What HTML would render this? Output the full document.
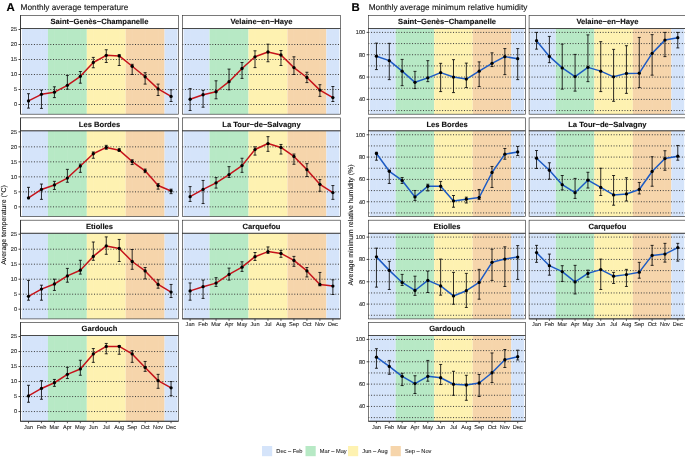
<!DOCTYPE html>
<html lang="en"><head><meta charset="utf-8"><title>Monthly climate</title>
<style>html,body{margin:0;padding:0;background:#fff}svg{display:block}text{font-family:'Liberation Sans', sans-serif;fill:#1a1a1a;text-rendering:geometricPrecision}.grid{stroke:#3a3a3a;stroke-width:1;stroke-dasharray:1 1.732;stroke-dashoffset:.24}.vg{stroke:#fff;stroke-width:.7;opacity:.08;fill:none}.err{stroke:#0a0a0a;stroke-width:.85;fill:none}.bd{stroke:#333333;stroke-width:.65;fill:none}.axl{stroke:#333;stroke-width:.9;fill:none}.xtick{stroke:#333;stroke-width:.8}.tick{stroke:#333;stroke-width:.9}.strip{font-size:7.6px;font-weight:700;text-anchor:middle;fill:#111;stroke:#111;stroke-width:.12px}.ylab{font-size:5.6px;text-anchor:end;fill:#2a2a2a;stroke:#2a2a2a;stroke-width:.1px}.xlab{font-size:5.6px;text-anchor:middle;fill:#2a2a2a;stroke:#2a2a2a;stroke-width:.1px}.ttl{font-size:8.25px;fill:#111;stroke:#111;stroke-width:.1px}.tag{font-size:11.4px;font-weight:700;fill:#000;stroke:#000;stroke-width:.15px}.ax{font-size:6.97px;text-anchor:middle;fill:#111;stroke:#111;stroke-width:.1px}.leg{font-size:5.7px;fill:#222;stroke:#222;stroke-width:.08px}</style></head><body>
<svg width="685" height="460" viewBox="0 0 685 460">
<rect width="685" height="460" fill="#fff"/>
<g>
<rect x="22.02" y="28.5" width="25.92" height="85.7" fill="#d5e4fa"/>
<rect x="47.94" y="28.5" width="38.88" height="85.7" fill="#b7e9c5"/>
<rect x="86.82" y="28.5" width="38.88" height="85.7" fill="#fef2b1"/>
<rect x="125.7" y="28.5" width="38.88" height="85.7" fill="#f6d5ab"/>
<rect x="164.58" y="28.5" width="12.96" height="85.7" fill="#d5e4fa"/>
<path d="M28.5 28.5v85.7M41.46 28.5v85.7M54.42 28.5v85.7M67.38 28.5v85.7M80.34 28.5v85.7M93.3 28.5v85.7M106.26 28.5v85.7M119.22 28.5v85.7M132.18 28.5v85.7M145.14 28.5v85.7M158.1 28.5v85.7M171.06 28.5v85.7" class="vg"/>
<line x1="20.5" x2="178.5" y1="104.5" y2="104.5" class="grid"/>
<line x1="20.5" x2="178.5" y1="89.5" y2="89.5" class="grid"/>
<line x1="20.5" x2="178.5" y1="74.5" y2="74.5" class="grid"/>
<line x1="20.5" x2="178.5" y1="59.5" y2="59.5" class="grid"/>
<line x1="20.5" x2="178.5" y1="44.5" y2="44.5" class="grid"/>
<path d="M28.5 93.7V108.1M27 93.7h3M27 108.1h3M41.46 90.1V108.4M39.96 90.1h3M39.96 108.4h3M54.42 86.8V97.6M52.92 86.8h3M52.92 97.6h3M67.38 75.4V89.2M65.88 75.4h3M65.88 89.2h3M80.34 71.5V83.2M78.84 71.5h3M78.84 83.2h3M93.3 57.4V67.75M91.8 57.4h3M91.8 67.75h3M106.26 49.75V62.5M104.76 49.75h3M104.76 62.5h3M119.22 54.7V65.5M117.72 54.7h3M117.72 65.5h3M132.18 64.3V74.5M130.68 64.3h3M130.68 74.5h3M145.14 72.7V84.1M143.64 72.7h3M143.64 84.1h3M158.1 84.1V95.5M156.6 84.1h3M156.6 95.5h3M171.06 89.8V101.5M169.56 89.8h3M169.56 101.5h3" class="err"/>
<polyline points="28.5,100.9 41.46,94.3 54.42,92.2 67.38,85.3 80.34,76.3 93.3,62.5 106.26,55.3 119.22,55.9 132.18,66.25 145.14,76.75 158.1,88.9 171.06,96.4" fill="none" stroke="#c5131b" stroke-width="1.5" stroke-linejoin="round"/>
<circle cx="28.5" cy="100.9" r="1.65" fill="#000"/>
<circle cx="41.46" cy="94.3" r="1.65" fill="#000"/>
<circle cx="54.42" cy="92.2" r="1.65" fill="#000"/>
<circle cx="67.38" cy="85.3" r="1.65" fill="#000"/>
<circle cx="80.34" cy="76.3" r="1.65" fill="#000"/>
<circle cx="93.3" cy="62.5" r="1.65" fill="#000"/>
<circle cx="106.26" cy="55.3" r="1.65" fill="#000"/>
<circle cx="119.22" cy="55.9" r="1.65" fill="#000"/>
<circle cx="132.18" cy="66.25" r="1.65" fill="#000"/>
<circle cx="145.14" cy="76.75" r="1.65" fill="#000"/>
<circle cx="158.1" cy="88.9" r="1.65" fill="#000"/>
<circle cx="171.06" cy="96.4" r="1.65" fill="#000"/>
<rect x="20.5" y="28.5" width="158" height="85.7" class="bd"/>
<rect x="20.5" y="15.5" width="158" height="13" class="bd" fill="#fff"/>
<text x="99.5" y="24.35" class="strip">Saint−Genès−Champanelle</text>
<line x1="20.5" x2="20.5" y1="15.5" y2="114.2" class="axl"/>
<line x1="18.5" x2="20.5" y1="104.5" y2="104.5" class="tick"/>
<text x="17.1" y="106.35" class="ylab">0</text>
<line x1="18.5" x2="20.5" y1="89.5" y2="89.5" class="tick"/>
<text x="17.1" y="91.35" class="ylab">5</text>
<line x1="18.5" x2="20.5" y1="74.5" y2="74.5" class="tick"/>
<text x="17.1" y="76.35" class="ylab">10</text>
<line x1="18.5" x2="20.5" y1="59.5" y2="59.5" class="tick"/>
<text x="17.1" y="61.35" class="ylab">15</text>
<line x1="18.5" x2="20.5" y1="44.5" y2="44.5" class="tick"/>
<text x="17.1" y="46.35" class="ylab">20</text>
<line x1="18.5" x2="20.5" y1="29.5" y2="29.5" class="tick"/>
<text x="17.1" y="31.35" class="ylab">25</text>
</g>
<g>
<rect x="183.61" y="28.5" width="25.96" height="85.7" fill="#d5e4fa"/>
<rect x="209.57" y="28.5" width="38.94" height="85.7" fill="#b7e9c5"/>
<rect x="248.51" y="28.5" width="38.94" height="85.7" fill="#fef2b1"/>
<rect x="287.45" y="28.5" width="38.94" height="85.7" fill="#f6d5ab"/>
<rect x="326.39" y="28.5" width="12.98" height="85.7" fill="#d5e4fa"/>
<path d="M190.1 28.5v85.7M203.08 28.5v85.7M216.06 28.5v85.7M229.04 28.5v85.7M242.02 28.5v85.7M255 28.5v85.7M267.98 28.5v85.7M280.96 28.5v85.7M293.94 28.5v85.7M306.92 28.5v85.7M319.9 28.5v85.7M332.88 28.5v85.7" class="vg"/>
<line x1="182.5" x2="340.5" y1="104.5" y2="104.5" class="grid"/>
<line x1="182.5" x2="340.5" y1="89.5" y2="89.5" class="grid"/>
<line x1="182.5" x2="340.5" y1="74.5" y2="74.5" class="grid"/>
<line x1="182.5" x2="340.5" y1="59.5" y2="59.5" class="grid"/>
<line x1="182.5" x2="340.5" y1="44.5" y2="44.5" class="grid"/>
<path d="M190.1 88.6V110.5M188.6 88.6h3M188.6 110.5h3M203.08 90.4V107.2M201.58 90.4h3M201.58 107.2h3M216.06 80.8V98.8M214.56 80.8h3M214.56 98.8h3M229.04 69.1V89.8M227.54 69.1h3M227.54 89.8h3M242.02 62.5V78.4M240.52 62.5h3M240.52 78.4h3M255 50.8V67.6M253.5 50.8h3M253.5 67.6h3M267.98 44.2V61.75M266.48 44.2h3M266.48 61.75h3M280.96 50.5V65.5M279.46 50.5h3M279.46 65.5h3M293.94 56.8V74.5M292.44 56.8h3M292.44 74.5h3M306.92 72.25V82.6M305.42 72.25h3M305.42 82.6h3M319.9 84.7V96.4M318.4 84.7h3M318.4 96.4h3M332.88 86.5V101.5M331.38 86.5h3M331.38 101.5h3" class="err"/>
<polyline points="190.1,99.25 203.08,94.75 216.06,91.75 229.04,81.7 242.02,68.5 255,56.8 267.98,52 280.96,55 293.94,67.6 306.92,77.5 319.9,90.1 332.88,97.6" fill="none" stroke="#c5131b" stroke-width="1.5" stroke-linejoin="round"/>
<circle cx="190.1" cy="99.25" r="1.65" fill="#000"/>
<circle cx="203.08" cy="94.75" r="1.65" fill="#000"/>
<circle cx="216.06" cy="91.75" r="1.65" fill="#000"/>
<circle cx="229.04" cy="81.7" r="1.65" fill="#000"/>
<circle cx="242.02" cy="68.5" r="1.65" fill="#000"/>
<circle cx="255" cy="56.8" r="1.65" fill="#000"/>
<circle cx="267.98" cy="52" r="1.65" fill="#000"/>
<circle cx="280.96" cy="55" r="1.65" fill="#000"/>
<circle cx="293.94" cy="67.6" r="1.65" fill="#000"/>
<circle cx="306.92" cy="77.5" r="1.65" fill="#000"/>
<circle cx="319.9" cy="90.1" r="1.65" fill="#000"/>
<circle cx="332.88" cy="97.6" r="1.65" fill="#000"/>
<rect x="182.5" y="28.5" width="158" height="85.7" class="bd"/>
<rect x="182.5" y="15.5" width="158" height="13" class="bd" fill="#fff"/>
<text x="261.5" y="24.35" class="strip">Velaine−en−Haye</text>
</g>
<g>
<rect x="22.02" y="130.85" width="25.92" height="85.7" fill="#d5e4fa"/>
<rect x="47.94" y="130.85" width="38.88" height="85.7" fill="#b7e9c5"/>
<rect x="86.82" y="130.85" width="38.88" height="85.7" fill="#fef2b1"/>
<rect x="125.7" y="130.85" width="38.88" height="85.7" fill="#f6d5ab"/>
<rect x="164.58" y="130.85" width="12.96" height="85.7" fill="#d5e4fa"/>
<path d="M28.5 130.85v85.7M41.46 130.85v85.7M54.42 130.85v85.7M67.38 130.85v85.7M80.34 130.85v85.7M93.3 130.85v85.7M106.26 130.85v85.7M119.22 130.85v85.7M132.18 130.85v85.7M145.14 130.85v85.7M158.1 130.85v85.7M171.06 130.85v85.7" class="vg"/>
<line x1="20.5" x2="178.5" y1="206.85" y2="206.85" class="grid"/>
<line x1="20.5" x2="178.5" y1="191.85" y2="191.85" class="grid"/>
<line x1="20.5" x2="178.5" y1="176.85" y2="176.85" class="grid"/>
<line x1="20.5" x2="178.5" y1="161.85" y2="161.85" class="grid"/>
<line x1="20.5" x2="178.5" y1="146.85" y2="146.85" class="grid"/>
<path d="M28.5 187.35V198.75M27 187.35h3M27 198.75h3M41.46 184.05V199.35M39.96 184.05h3M39.96 199.35h3M54.42 181.35V189.45M52.92 181.35h3M52.92 189.45h3M67.38 169.35V182.25M65.88 169.35h3M65.88 182.25h3M80.34 164.1V172.35M78.84 164.1h3M78.84 172.35h3M93.3 151.95V158.25M91.8 151.95h3M91.8 158.25h3M106.26 145.35V149.25M104.76 145.35h3M104.76 149.25h3M119.22 148.65V151.35M117.72 148.65h3M117.72 151.35h3M132.18 159.75V164.55M130.68 159.75h3M130.68 164.55h3M145.14 169.05V172.65M143.64 169.05h3M143.64 172.65h3M158.1 183.6V189.15M156.6 183.6h3M156.6 189.15h3M171.06 189.15V193.65M169.56 189.15h3M169.56 193.65h3" class="err"/>
<polyline points="28.5,197.85 41.46,189.45 54.42,184.95 67.38,178.05 80.34,166.05 93.3,153.75 106.26,147.45 119.22,150.15 132.18,161.55 145.14,170.85 158.1,185.55 171.06,190.95" fill="none" stroke="#c5131b" stroke-width="1.5" stroke-linejoin="round"/>
<circle cx="28.5" cy="197.85" r="1.65" fill="#000"/>
<circle cx="41.46" cy="189.45" r="1.65" fill="#000"/>
<circle cx="54.42" cy="184.95" r="1.65" fill="#000"/>
<circle cx="67.38" cy="178.05" r="1.65" fill="#000"/>
<circle cx="80.34" cy="166.05" r="1.65" fill="#000"/>
<circle cx="93.3" cy="153.75" r="1.65" fill="#000"/>
<circle cx="106.26" cy="147.45" r="1.65" fill="#000"/>
<circle cx="119.22" cy="150.15" r="1.65" fill="#000"/>
<circle cx="132.18" cy="161.55" r="1.65" fill="#000"/>
<circle cx="145.14" cy="170.85" r="1.65" fill="#000"/>
<circle cx="158.1" cy="185.55" r="1.65" fill="#000"/>
<circle cx="171.06" cy="190.95" r="1.65" fill="#000"/>
<rect x="20.5" y="130.85" width="158" height="85.7" class="bd"/>
<rect x="20.5" y="117.85" width="158" height="13" class="bd" fill="#fff"/>
<text x="99.5" y="126.7" class="strip">Les Bordes</text>
<line x1="20.5" x2="20.5" y1="117.85" y2="216.55" class="axl"/>
<line x1="18.5" x2="20.5" y1="206.85" y2="206.85" class="tick"/>
<text x="17.1" y="208.7" class="ylab">0</text>
<line x1="18.5" x2="20.5" y1="191.85" y2="191.85" class="tick"/>
<text x="17.1" y="193.7" class="ylab">5</text>
<line x1="18.5" x2="20.5" y1="176.85" y2="176.85" class="tick"/>
<text x="17.1" y="178.7" class="ylab">10</text>
<line x1="18.5" x2="20.5" y1="161.85" y2="161.85" class="tick"/>
<text x="17.1" y="163.7" class="ylab">15</text>
<line x1="18.5" x2="20.5" y1="146.85" y2="146.85" class="tick"/>
<text x="17.1" y="148.7" class="ylab">20</text>
<line x1="18.5" x2="20.5" y1="131.85" y2="131.85" class="tick"/>
<text x="17.1" y="133.7" class="ylab">25</text>
</g>
<g>
<rect x="183.61" y="130.85" width="25.96" height="85.7" fill="#d5e4fa"/>
<rect x="209.57" y="130.85" width="38.94" height="85.7" fill="#b7e9c5"/>
<rect x="248.51" y="130.85" width="38.94" height="85.7" fill="#fef2b1"/>
<rect x="287.45" y="130.85" width="38.94" height="85.7" fill="#f6d5ab"/>
<rect x="326.39" y="130.85" width="12.98" height="85.7" fill="#d5e4fa"/>
<path d="M190.1 130.85v85.7M203.08 130.85v85.7M216.06 130.85v85.7M229.04 130.85v85.7M242.02 130.85v85.7M255 130.85v85.7M267.98 130.85v85.7M280.96 130.85v85.7M293.94 130.85v85.7M306.92 130.85v85.7M319.9 130.85v85.7M332.88 130.85v85.7" class="vg"/>
<line x1="182.5" x2="340.5" y1="206.85" y2="206.85" class="grid"/>
<line x1="182.5" x2="340.5" y1="191.85" y2="191.85" class="grid"/>
<line x1="182.5" x2="340.5" y1="176.85" y2="176.85" class="grid"/>
<line x1="182.5" x2="340.5" y1="161.85" y2="161.85" class="grid"/>
<line x1="182.5" x2="340.5" y1="146.85" y2="146.85" class="grid"/>
<path d="M190.1 186.6V201.45M188.6 186.6h3M188.6 201.45h3M203.08 180.45V203.55M201.58 180.45h3M201.58 203.55h3M216.06 177.6V188.1M214.56 177.6h3M214.56 188.1h3M229.04 166.65V177.45M227.54 166.65h3M227.54 177.45h3M242.02 158.25V172.35M240.52 158.25h3M240.52 172.35h3M255 146.85V155.1M253.5 146.85h3M253.5 155.1h3M267.98 136.65V151.35M266.48 136.65h3M266.48 151.35h3M280.96 144.45V154.05M279.46 144.45h3M279.46 154.05h3M293.94 154.05V164.25M292.44 154.05h3M292.44 164.25h3M306.92 163.65V176.55M305.42 163.65h3M305.42 176.55h3M319.9 179.55V191.25M318.4 179.55h3M318.4 191.25h3M332.88 185.55V199.35M331.38 185.55h3M331.38 199.35h3" class="err"/>
<polyline points="190.1,196.65 203.08,189.45 216.06,182.85 229.04,174.6 242.02,165.6 255,149.55 267.98,143.55 280.96,147.45 293.94,156.45 306.92,169.65 319.9,184.35 332.88,192.6" fill="none" stroke="#c5131b" stroke-width="1.5" stroke-linejoin="round"/>
<circle cx="190.1" cy="196.65" r="1.65" fill="#000"/>
<circle cx="203.08" cy="189.45" r="1.65" fill="#000"/>
<circle cx="216.06" cy="182.85" r="1.65" fill="#000"/>
<circle cx="229.04" cy="174.6" r="1.65" fill="#000"/>
<circle cx="242.02" cy="165.6" r="1.65" fill="#000"/>
<circle cx="255" cy="149.55" r="1.65" fill="#000"/>
<circle cx="267.98" cy="143.55" r="1.65" fill="#000"/>
<circle cx="280.96" cy="147.45" r="1.65" fill="#000"/>
<circle cx="293.94" cy="156.45" r="1.65" fill="#000"/>
<circle cx="306.92" cy="169.65" r="1.65" fill="#000"/>
<circle cx="319.9" cy="184.35" r="1.65" fill="#000"/>
<circle cx="332.88" cy="192.6" r="1.65" fill="#000"/>
<rect x="182.5" y="130.85" width="158" height="85.7" class="bd"/>
<rect x="182.5" y="117.85" width="158" height="13" class="bd" fill="#fff"/>
<text x="261.5" y="126.7" class="strip">La Tour−de−Salvagny</text>
</g>
<g>
<rect x="22.02" y="233.2" width="25.92" height="85.7" fill="#d5e4fa"/>
<rect x="47.94" y="233.2" width="38.88" height="85.7" fill="#b7e9c5"/>
<rect x="86.82" y="233.2" width="38.88" height="85.7" fill="#fef2b1"/>
<rect x="125.7" y="233.2" width="38.88" height="85.7" fill="#f6d5ab"/>
<rect x="164.58" y="233.2" width="12.96" height="85.7" fill="#d5e4fa"/>
<path d="M28.5 233.2v85.7M41.46 233.2v85.7M54.42 233.2v85.7M67.38 233.2v85.7M80.34 233.2v85.7M93.3 233.2v85.7M106.26 233.2v85.7M119.22 233.2v85.7M132.18 233.2v85.7M145.14 233.2v85.7M158.1 233.2v85.7M171.06 233.2v85.7" class="vg"/>
<line x1="20.5" x2="178.5" y1="309.2" y2="309.2" class="grid"/>
<line x1="20.5" x2="178.5" y1="294.2" y2="294.2" class="grid"/>
<line x1="20.5" x2="178.5" y1="279.2" y2="279.2" class="grid"/>
<line x1="20.5" x2="178.5" y1="264.2" y2="264.2" class="grid"/>
<line x1="20.5" x2="178.5" y1="249.2" y2="249.2" class="grid"/>
<path d="M28.5 280.4V300.2M27 280.4h3M27 300.2h3M41.46 285.2V300.2M39.96 285.2h3M39.96 300.2h3M54.42 279.2V290.45M52.92 279.2h3M52.92 290.45h3M67.38 268.4V282.2M65.88 268.4h3M65.88 282.2h3M80.34 260.3V274.1M78.84 260.3h3M78.84 274.1h3M93.3 242V260.3M91.8 242h3M91.8 260.3h3M106.26 236.9V254.3M104.76 236.9h3M104.76 254.3h3M119.22 239.45V261.5M117.72 239.45h3M117.72 261.5h3M132.18 249.5V269.3M130.68 249.5h3M130.68 269.3h3M145.14 267.5V278.9M143.64 267.5h3M143.64 278.9h3M158.1 279.8V288.2M156.6 279.8h3M156.6 288.2h3M171.06 284.45V297.5M169.56 284.45h3M169.56 297.5h3" class="err"/>
<polyline points="28.5,296.3 41.46,289.1 54.42,284 67.38,275.9 80.34,270.2 93.3,256.4 106.26,245.9 119.22,248.45 132.18,261.5 145.14,270.95 158.1,284.45 171.06,292.1" fill="none" stroke="#c5131b" stroke-width="1.5" stroke-linejoin="round"/>
<circle cx="28.5" cy="296.3" r="1.65" fill="#000"/>
<circle cx="41.46" cy="289.1" r="1.65" fill="#000"/>
<circle cx="54.42" cy="284" r="1.65" fill="#000"/>
<circle cx="67.38" cy="275.9" r="1.65" fill="#000"/>
<circle cx="80.34" cy="270.2" r="1.65" fill="#000"/>
<circle cx="93.3" cy="256.4" r="1.65" fill="#000"/>
<circle cx="106.26" cy="245.9" r="1.65" fill="#000"/>
<circle cx="119.22" cy="248.45" r="1.65" fill="#000"/>
<circle cx="132.18" cy="261.5" r="1.65" fill="#000"/>
<circle cx="145.14" cy="270.95" r="1.65" fill="#000"/>
<circle cx="158.1" cy="284.45" r="1.65" fill="#000"/>
<circle cx="171.06" cy="292.1" r="1.65" fill="#000"/>
<rect x="20.5" y="233.2" width="158" height="85.7" class="bd"/>
<rect x="20.5" y="220.2" width="158" height="13" class="bd" fill="#fff"/>
<text x="99.5" y="229.05" class="strip">Etiolles</text>
<line x1="20.5" x2="20.5" y1="220.2" y2="318.9" class="axl"/>
<line x1="18.5" x2="20.5" y1="309.2" y2="309.2" class="tick"/>
<text x="17.1" y="311.05" class="ylab">0</text>
<line x1="18.5" x2="20.5" y1="294.2" y2="294.2" class="tick"/>
<text x="17.1" y="296.05" class="ylab">5</text>
<line x1="18.5" x2="20.5" y1="279.2" y2="279.2" class="tick"/>
<text x="17.1" y="281.05" class="ylab">10</text>
<line x1="18.5" x2="20.5" y1="264.2" y2="264.2" class="tick"/>
<text x="17.1" y="266.05" class="ylab">15</text>
<line x1="18.5" x2="20.5" y1="249.2" y2="249.2" class="tick"/>
<text x="17.1" y="251.05" class="ylab">20</text>
<line x1="18.5" x2="20.5" y1="234.2" y2="234.2" class="tick"/>
<text x="17.1" y="236.05" class="ylab">25</text>
</g>
<g>
<rect x="183.61" y="233.2" width="25.96" height="85.7" fill="#d5e4fa"/>
<rect x="209.57" y="233.2" width="38.94" height="85.7" fill="#b7e9c5"/>
<rect x="248.51" y="233.2" width="38.94" height="85.7" fill="#fef2b1"/>
<rect x="287.45" y="233.2" width="38.94" height="85.7" fill="#f6d5ab"/>
<rect x="326.39" y="233.2" width="12.98" height="85.7" fill="#d5e4fa"/>
<path d="M190.1 233.2v85.7M203.08 233.2v85.7M216.06 233.2v85.7M229.04 233.2v85.7M242.02 233.2v85.7M255 233.2v85.7M267.98 233.2v85.7M280.96 233.2v85.7M293.94 233.2v85.7M306.92 233.2v85.7M319.9 233.2v85.7M332.88 233.2v85.7" class="vg"/>
<line x1="182.5" x2="340.5" y1="309.2" y2="309.2" class="grid"/>
<line x1="182.5" x2="340.5" y1="294.2" y2="294.2" class="grid"/>
<line x1="182.5" x2="340.5" y1="279.2" y2="279.2" class="grid"/>
<line x1="182.5" x2="340.5" y1="264.2" y2="264.2" class="grid"/>
<line x1="182.5" x2="340.5" y1="249.2" y2="249.2" class="grid"/>
<path d="M190.1 282.95V300.2M188.6 282.95h3M188.6 300.2h3M203.08 280.1V298.4M201.58 280.1h3M201.58 298.4h3M216.06 277.7V286.4M214.56 277.7h3M214.56 286.4h3M229.04 268.1V280.1M227.54 268.1h3M227.54 280.1h3M242.02 261.8V271.4M240.52 261.8h3M240.52 271.4h3M255 252.5V260.45M253.5 252.5h3M253.5 260.45h3M267.98 246.95V253.4M266.48 246.95h3M266.48 253.4h3M280.96 250.4V257.3M279.46 250.4h3M279.46 257.3h3M293.94 256.4V266.3M292.44 256.4h3M292.44 266.3h3M306.92 267.5V276.95M305.42 267.5h3M305.42 276.95h3M319.9 272.45V285.8M318.4 272.45h3M318.4 285.8h3M332.88 279.8V294.5M331.38 279.8h3M331.38 294.5h3" class="err"/>
<polyline points="190.1,290.9 203.08,286.7 216.06,283.1 229.04,274.4 242.02,267.2 255,256.7 267.98,251.6 280.96,253.4 293.94,260.45 306.92,270.95 319.9,284.45 332.88,286.1" fill="none" stroke="#c5131b" stroke-width="1.5" stroke-linejoin="round"/>
<circle cx="190.1" cy="290.9" r="1.65" fill="#000"/>
<circle cx="203.08" cy="286.7" r="1.65" fill="#000"/>
<circle cx="216.06" cy="283.1" r="1.65" fill="#000"/>
<circle cx="229.04" cy="274.4" r="1.65" fill="#000"/>
<circle cx="242.02" cy="267.2" r="1.65" fill="#000"/>
<circle cx="255" cy="256.7" r="1.65" fill="#000"/>
<circle cx="267.98" cy="251.6" r="1.65" fill="#000"/>
<circle cx="280.96" cy="253.4" r="1.65" fill="#000"/>
<circle cx="293.94" cy="260.45" r="1.65" fill="#000"/>
<circle cx="306.92" cy="270.95" r="1.65" fill="#000"/>
<circle cx="319.9" cy="284.45" r="1.65" fill="#000"/>
<circle cx="332.88" cy="286.1" r="1.65" fill="#000"/>
<rect x="182.5" y="233.2" width="158" height="85.7" class="bd"/>
<rect x="182.5" y="220.2" width="158" height="13" class="bd" fill="#fff"/>
<text x="261.5" y="229.05" class="strip">Carquefou</text>
<line x1="182.5" x2="340.5" y1="318.9" y2="318.9" class="axl"/>
<line x1="190.1" x2="190.1" y1="318.9" y2="320.9" class="xtick"/>
<text x="190.1" y="326.15" class="xlab">Jan</text>
<line x1="203.08" x2="203.08" y1="318.9" y2="320.9" class="xtick"/>
<text x="203.08" y="326.15" class="xlab">Feb</text>
<line x1="216.06" x2="216.06" y1="318.9" y2="320.9" class="xtick"/>
<text x="216.06" y="326.15" class="xlab">Mar</text>
<line x1="229.04" x2="229.04" y1="318.9" y2="320.9" class="xtick"/>
<text x="229.04" y="326.15" class="xlab">Apr</text>
<line x1="242.02" x2="242.02" y1="318.9" y2="320.9" class="xtick"/>
<text x="242.02" y="326.15" class="xlab">May</text>
<line x1="255" x2="255" y1="318.9" y2="320.9" class="xtick"/>
<text x="255" y="326.15" class="xlab">Jun</text>
<line x1="267.98" x2="267.98" y1="318.9" y2="320.9" class="xtick"/>
<text x="267.98" y="326.15" class="xlab">Jul</text>
<line x1="280.96" x2="280.96" y1="318.9" y2="320.9" class="xtick"/>
<text x="280.96" y="326.15" class="xlab">Aug</text>
<line x1="293.94" x2="293.94" y1="318.9" y2="320.9" class="xtick"/>
<text x="293.94" y="326.15" class="xlab">Sep</text>
<line x1="306.92" x2="306.92" y1="318.9" y2="320.9" class="xtick"/>
<text x="306.92" y="326.15" class="xlab">Oct</text>
<line x1="319.9" x2="319.9" y1="318.9" y2="320.9" class="xtick"/>
<text x="319.9" y="326.15" class="xlab">Nov</text>
<line x1="332.88" x2="332.88" y1="318.9" y2="320.9" class="xtick"/>
<text x="332.88" y="326.15" class="xlab">Dec</text>
</g>
<g>
<rect x="22.02" y="335.55" width="25.92" height="85.7" fill="#d5e4fa"/>
<rect x="47.94" y="335.55" width="38.88" height="85.7" fill="#b7e9c5"/>
<rect x="86.82" y="335.55" width="38.88" height="85.7" fill="#fef2b1"/>
<rect x="125.7" y="335.55" width="38.88" height="85.7" fill="#f6d5ab"/>
<rect x="164.58" y="335.55" width="12.96" height="85.7" fill="#d5e4fa"/>
<path d="M28.5 335.55v85.7M41.46 335.55v85.7M54.42 335.55v85.7M67.38 335.55v85.7M80.34 335.55v85.7M93.3 335.55v85.7M106.26 335.55v85.7M119.22 335.55v85.7M132.18 335.55v85.7M145.14 335.55v85.7M158.1 335.55v85.7M171.06 335.55v85.7" class="vg"/>
<line x1="20.5" x2="178.5" y1="411.55" y2="411.55" class="grid"/>
<line x1="20.5" x2="178.5" y1="396.55" y2="396.55" class="grid"/>
<line x1="20.5" x2="178.5" y1="381.55" y2="381.55" class="grid"/>
<line x1="20.5" x2="178.5" y1="366.55" y2="366.55" class="grid"/>
<line x1="20.5" x2="178.5" y1="351.55" y2="351.55" class="grid"/>
<path d="M28.5 385.3V402.25M27 385.3h3M27 402.25h3M41.46 380.65V399.25M39.96 380.65h3M39.96 399.25h3M54.42 379.45V386.35M52.92 379.45h3M52.92 386.35h3M67.38 367.3V378.55M65.88 367.3h3M65.88 378.55h3M80.34 360.25V375.25M78.84 360.25h3M78.84 375.25h3M93.3 348.55V362.35M91.8 348.55h3M91.8 362.35h3M106.26 343.45V353.8M104.76 343.45h3M104.76 353.8h3M119.22 345.55V354.25M117.72 345.55h3M117.72 354.25h3M132.18 350.65V362.35M130.68 350.65h3M130.68 362.35h3M145.14 361.45V371.35M143.64 361.45h3M143.64 371.35h3M158.1 374.35V388.3M156.6 374.35h3M156.6 388.3h3M171.06 381.55V395.65M169.56 381.55h3M169.56 395.65h3" class="err"/>
<polyline points="28.5,395.95 41.46,388.45 54.42,382.75 67.38,374.35 80.34,368.95 93.3,353.95 106.26,346.45 119.22,346.45 132.18,353.95 145.14,367.45 158.1,380.65 171.06,387.85" fill="none" stroke="#c5131b" stroke-width="1.5" stroke-linejoin="round"/>
<circle cx="28.5" cy="395.95" r="1.65" fill="#000"/>
<circle cx="41.46" cy="388.45" r="1.65" fill="#000"/>
<circle cx="54.42" cy="382.75" r="1.65" fill="#000"/>
<circle cx="67.38" cy="374.35" r="1.65" fill="#000"/>
<circle cx="80.34" cy="368.95" r="1.65" fill="#000"/>
<circle cx="93.3" cy="353.95" r="1.65" fill="#000"/>
<circle cx="106.26" cy="346.45" r="1.65" fill="#000"/>
<circle cx="119.22" cy="346.45" r="1.65" fill="#000"/>
<circle cx="132.18" cy="353.95" r="1.65" fill="#000"/>
<circle cx="145.14" cy="367.45" r="1.65" fill="#000"/>
<circle cx="158.1" cy="380.65" r="1.65" fill="#000"/>
<circle cx="171.06" cy="387.85" r="1.65" fill="#000"/>
<rect x="20.5" y="335.55" width="158" height="85.7" class="bd"/>
<rect x="20.5" y="322.55" width="158" height="13" class="bd" fill="#fff"/>
<text x="99.5" y="331.4" class="strip">Gardouch</text>
<line x1="20.5" x2="20.5" y1="322.55" y2="421.25" class="axl"/>
<line x1="18.5" x2="20.5" y1="411.55" y2="411.55" class="tick"/>
<text x="17.1" y="413.4" class="ylab">0</text>
<line x1="18.5" x2="20.5" y1="396.55" y2="396.55" class="tick"/>
<text x="17.1" y="398.4" class="ylab">5</text>
<line x1="18.5" x2="20.5" y1="381.55" y2="381.55" class="tick"/>
<text x="17.1" y="383.4" class="ylab">10</text>
<line x1="18.5" x2="20.5" y1="366.55" y2="366.55" class="tick"/>
<text x="17.1" y="368.4" class="ylab">15</text>
<line x1="18.5" x2="20.5" y1="351.55" y2="351.55" class="tick"/>
<text x="17.1" y="353.4" class="ylab">20</text>
<line x1="18.5" x2="20.5" y1="336.55" y2="336.55" class="tick"/>
<text x="17.1" y="338.4" class="ylab">25</text>
<line x1="20.5" x2="178.5" y1="421.25" y2="421.25" class="axl"/>
<line x1="28.5" x2="28.5" y1="421.25" y2="423.25" class="xtick"/>
<text x="28.5" y="428.5" class="xlab">Jan</text>
<line x1="41.46" x2="41.46" y1="421.25" y2="423.25" class="xtick"/>
<text x="41.46" y="428.5" class="xlab">Feb</text>
<line x1="54.42" x2="54.42" y1="421.25" y2="423.25" class="xtick"/>
<text x="54.42" y="428.5" class="xlab">Mar</text>
<line x1="67.38" x2="67.38" y1="421.25" y2="423.25" class="xtick"/>
<text x="67.38" y="428.5" class="xlab">Apr</text>
<line x1="80.34" x2="80.34" y1="421.25" y2="423.25" class="xtick"/>
<text x="80.34" y="428.5" class="xlab">May</text>
<line x1="93.3" x2="93.3" y1="421.25" y2="423.25" class="xtick"/>
<text x="93.3" y="428.5" class="xlab">Jun</text>
<line x1="106.26" x2="106.26" y1="421.25" y2="423.25" class="xtick"/>
<text x="106.26" y="428.5" class="xlab">Jul</text>
<line x1="119.22" x2="119.22" y1="421.25" y2="423.25" class="xtick"/>
<text x="119.22" y="428.5" class="xlab">Aug</text>
<line x1="132.18" x2="132.18" y1="421.25" y2="423.25" class="xtick"/>
<text x="132.18" y="428.5" class="xlab">Sep</text>
<line x1="145.14" x2="145.14" y1="421.25" y2="423.25" class="xtick"/>
<text x="145.14" y="428.5" class="xlab">Oct</text>
<line x1="158.1" x2="158.1" y1="421.25" y2="423.25" class="xtick"/>
<text x="158.1" y="428.5" class="xlab">Nov</text>
<line x1="171.06" x2="171.06" y1="421.25" y2="423.25" class="xtick"/>
<text x="171.06" y="428.5" class="xlab">Dec</text>
</g>
<g>
<rect x="370.03" y="28.5" width="25.68" height="85.7" fill="#d5e4fa"/>
<rect x="395.71" y="28.5" width="38.52" height="85.7" fill="#b7e9c5"/>
<rect x="434.23" y="28.5" width="38.52" height="85.7" fill="#fef2b1"/>
<rect x="472.75" y="28.5" width="38.52" height="85.7" fill="#f6d5ab"/>
<rect x="511.27" y="28.5" width="12.84" height="85.7" fill="#d5e4fa"/>
<path d="M376.45 28.5v85.7M389.29 28.5v85.7M402.13 28.5v85.7M414.97 28.5v85.7M427.81 28.5v85.7M440.65 28.5v85.7M453.49 28.5v85.7M466.33 28.5v85.7M479.17 28.5v85.7M492.01 28.5v85.7M504.85 28.5v85.7M517.69 28.5v85.7" class="vg"/>
<line x1="368.6" x2="525.55" y1="110.57" y2="110.57" class="grid"/>
<line x1="368.6" x2="525.55" y1="99.4" y2="99.4" class="grid"/>
<line x1="368.6" x2="525.55" y1="88.23" y2="88.23" class="grid"/>
<line x1="368.6" x2="525.55" y1="77.07" y2="77.07" class="grid"/>
<line x1="368.6" x2="525.55" y1="65.9" y2="65.9" class="grid"/>
<line x1="368.6" x2="525.55" y1="54.73" y2="54.73" class="grid"/>
<line x1="368.6" x2="525.55" y1="43.57" y2="43.57" class="grid"/>
<line x1="368.6" x2="525.55" y1="32.4" y2="32.4" class="grid"/>
<path d="M376.45 43.12V69.59M374.95 43.12h3M374.95 69.59h3M389.29 43.34V79.64M387.79 43.34h3M387.79 79.64h3M402.13 59.42V85.67M400.63 59.42h3M400.63 85.67h3M414.97 71.37V88.57M413.47 71.37h3M413.47 88.57h3M427.81 60.65V81.65M426.31 60.65h3M426.31 81.65h3M440.65 63.33V91.59M439.15 63.33h3M439.15 91.59h3M453.49 59.65V92.59M451.99 59.65h3M451.99 92.59h3M466.33 63.11V87.56M464.83 63.11h3M464.83 87.56h3M479.17 61.88V86.56M477.67 61.88h3M477.67 86.56h3M492.01 52.84V66.57M490.51 52.84h3M490.51 66.57h3M504.85 48.59V74.61M503.35 48.59h3M503.35 74.61h3M517.69 48.59V79.64M516.19 48.59h3M516.19 79.64h3" class="err"/>
<polyline points="376.45,56.19 389.29,60.65 402.13,71.15 414.97,82.32 427.81,77.85 440.65,72.6 453.49,77.07 466.33,79.08 479.17,71.15 492.01,63.33 504.85,56.63 517.69,58.64" fill="none" stroke="#1d5bc4" stroke-width="1.5" stroke-linejoin="round"/>
<circle cx="376.45" cy="56.19" r="1.65" fill="#000"/>
<circle cx="389.29" cy="60.65" r="1.65" fill="#000"/>
<circle cx="402.13" cy="71.15" r="1.65" fill="#000"/>
<circle cx="414.97" cy="82.32" r="1.65" fill="#000"/>
<circle cx="427.81" cy="77.85" r="1.65" fill="#000"/>
<circle cx="440.65" cy="72.6" r="1.65" fill="#000"/>
<circle cx="453.49" cy="77.07" r="1.65" fill="#000"/>
<circle cx="466.33" cy="79.08" r="1.65" fill="#000"/>
<circle cx="479.17" cy="71.15" r="1.65" fill="#000"/>
<circle cx="492.01" cy="63.33" r="1.65" fill="#000"/>
<circle cx="504.85" cy="56.63" r="1.65" fill="#000"/>
<circle cx="517.69" cy="58.64" r="1.65" fill="#000"/>
<rect x="368.6" y="28.5" width="156.95" height="85.7" class="bd"/>
<rect x="368.6" y="15.5" width="156.95" height="13" class="bd" fill="#fff"/>
<text x="447.07" y="24.35" class="strip">Saint−Genès−Champanelle</text>
<line x1="366.6" x2="368.6" y1="99.4" y2="99.4" class="tick"/>
<text x="365.2" y="101.25" class="ylab">40</text>
<line x1="366.6" x2="368.6" y1="77.07" y2="77.07" class="tick"/>
<text x="365.2" y="78.92" class="ylab">60</text>
<line x1="366.6" x2="368.6" y1="54.73" y2="54.73" class="tick"/>
<text x="365.2" y="56.58" class="ylab">80</text>
<line x1="366.6" x2="368.6" y1="32.4" y2="32.4" class="tick"/>
<text x="365.2" y="34.25" class="ylab">100</text>
</g>
<g>
<rect x="530.13" y="28.5" width="25.68" height="85.7" fill="#d5e4fa"/>
<rect x="555.81" y="28.5" width="38.52" height="85.7" fill="#b7e9c5"/>
<rect x="594.33" y="28.5" width="38.52" height="85.7" fill="#fef2b1"/>
<rect x="632.85" y="28.5" width="38.52" height="85.7" fill="#f6d5ab"/>
<rect x="671.37" y="28.5" width="12.84" height="85.7" fill="#d5e4fa"/>
<path d="M536.55 28.5v85.7M549.39 28.5v85.7M562.23 28.5v85.7M575.07 28.5v85.7M587.91 28.5v85.7M600.75 28.5v85.7M613.59 28.5v85.7M626.43 28.5v85.7M639.27 28.5v85.7M652.11 28.5v85.7M664.95 28.5v85.7M677.79 28.5v85.7" class="vg"/>
<line x1="529.1" x2="685.75" y1="110.57" y2="110.57" class="grid"/>
<line x1="529.1" x2="685.75" y1="99.4" y2="99.4" class="grid"/>
<line x1="529.1" x2="685.75" y1="88.23" y2="88.23" class="grid"/>
<line x1="529.1" x2="685.75" y1="77.07" y2="77.07" class="grid"/>
<line x1="529.1" x2="685.75" y1="65.9" y2="65.9" class="grid"/>
<line x1="529.1" x2="685.75" y1="54.73" y2="54.73" class="grid"/>
<line x1="529.1" x2="685.75" y1="43.57" y2="43.57" class="grid"/>
<line x1="529.1" x2="685.75" y1="32.4" y2="32.4" class="grid"/>
<path d="M536.55 32.4V49.15M535.05 32.4h3M535.05 49.15h3M549.39 36.42V62.66M547.89 36.42h3M547.89 62.66h3M562.23 44.13V89.13M560.73 44.13h3M560.73 89.13h3M575.07 54.4V91.14M573.57 54.4h3M573.57 91.14h3M587.91 34.86V81.65M586.41 34.86h3M586.41 81.65h3M600.75 41.67V91.59M599.25 41.67h3M599.25 91.59h3M613.59 49.37V101.3M612.09 49.37h3M612.09 101.3h3M626.43 45.69V93.37M624.93 45.69h3M624.93 93.37h3M639.27 37.43V87.56M637.77 37.43h3M637.77 87.56h3M652.11 34.63V75.17M650.61 34.63h3M650.61 75.17h3M664.95 32.4V56.63M663.45 32.4h3M663.45 56.63h3M677.79 32.4V47.92M676.29 32.4h3M676.29 47.92h3" class="err"/>
<polyline points="536.55,40.66 549.39,56.41 562.23,67.91 575.07,76.62 587.91,67.35 600.75,71.15 613.59,76.84 626.43,73.38 639.27,73.16 652.11,53.39 664.95,40.11 677.79,37.65" fill="none" stroke="#1d5bc4" stroke-width="1.5" stroke-linejoin="round"/>
<circle cx="536.55" cy="40.66" r="1.65" fill="#000"/>
<circle cx="549.39" cy="56.41" r="1.65" fill="#000"/>
<circle cx="562.23" cy="67.91" r="1.65" fill="#000"/>
<circle cx="575.07" cy="76.62" r="1.65" fill="#000"/>
<circle cx="587.91" cy="67.35" r="1.65" fill="#000"/>
<circle cx="600.75" cy="71.15" r="1.65" fill="#000"/>
<circle cx="613.59" cy="76.84" r="1.65" fill="#000"/>
<circle cx="626.43" cy="73.38" r="1.65" fill="#000"/>
<circle cx="639.27" cy="73.16" r="1.65" fill="#000"/>
<circle cx="652.11" cy="53.39" r="1.65" fill="#000"/>
<circle cx="664.95" cy="40.11" r="1.65" fill="#000"/>
<circle cx="677.79" cy="37.65" r="1.65" fill="#000"/>
<rect x="529.1" y="28.5" width="156.65" height="85.7" class="bd"/>
<rect x="529.1" y="15.5" width="156.65" height="13" class="bd" fill="#fff"/>
<text x="607.42" y="24.35" class="strip">Velaine−en−Haye</text>
</g>
<g>
<rect x="370.03" y="130.85" width="25.68" height="85.7" fill="#d5e4fa"/>
<rect x="395.71" y="130.85" width="38.52" height="85.7" fill="#b7e9c5"/>
<rect x="434.23" y="130.85" width="38.52" height="85.7" fill="#fef2b1"/>
<rect x="472.75" y="130.85" width="38.52" height="85.7" fill="#f6d5ab"/>
<rect x="511.27" y="130.85" width="12.84" height="85.7" fill="#d5e4fa"/>
<path d="M376.45 130.85v85.7M389.29 130.85v85.7M402.13 130.85v85.7M414.97 130.85v85.7M427.81 130.85v85.7M440.65 130.85v85.7M453.49 130.85v85.7M466.33 130.85v85.7M479.17 130.85v85.7M492.01 130.85v85.7M504.85 130.85v85.7M517.69 130.85v85.7" class="vg"/>
<line x1="368.6" x2="525.55" y1="212.92" y2="212.92" class="grid"/>
<line x1="368.6" x2="525.55" y1="201.75" y2="201.75" class="grid"/>
<line x1="368.6" x2="525.55" y1="190.59" y2="190.59" class="grid"/>
<line x1="368.6" x2="525.55" y1="179.42" y2="179.42" class="grid"/>
<line x1="368.6" x2="525.55" y1="168.25" y2="168.25" class="grid"/>
<line x1="368.6" x2="525.55" y1="157.08" y2="157.08" class="grid"/>
<line x1="368.6" x2="525.55" y1="145.92" y2="145.92" class="grid"/>
<line x1="368.6" x2="525.55" y1="134.75" y2="134.75" class="grid"/>
<path d="M376.45 152.28V160.21M374.95 152.28h3M374.95 160.21h3M389.29 170.26V183.44M387.79 170.26h3M387.79 183.44h3M402.13 177.52V183.44M400.63 177.52h3M400.63 183.44h3M414.97 190.47V200.41M413.47 190.47h3M413.47 200.41h3M427.81 184.22V190.92M426.31 184.22h3M426.31 190.92h3M440.65 181.43V190.47M439.15 181.43h3M439.15 190.47h3M453.49 195.5V207.22M451.99 195.5h3M451.99 207.22h3M466.33 197.17V202.98M464.83 197.17h3M464.83 202.98h3M479.17 189.47V199.41M477.67 189.47h3M477.67 199.41h3M492.01 166.46V187.46M490.51 166.46h3M490.51 187.46h3M504.85 148.49V159.21M503.35 148.49h3M503.35 159.21h3M517.69 146.48V155.52M516.19 146.48h3M516.19 155.52h3" class="err"/>
<polyline points="376.45,153.51 389.29,171.27 402.13,180.42 414.97,196.95 427.81,186.23 440.65,186.23 453.49,200.97 466.33,199.18 479.17,197.51 492.01,172.49 504.85,154.18 517.69,151.95" fill="none" stroke="#1d5bc4" stroke-width="1.5" stroke-linejoin="round"/>
<circle cx="376.45" cy="153.51" r="1.65" fill="#000"/>
<circle cx="389.29" cy="171.27" r="1.65" fill="#000"/>
<circle cx="402.13" cy="180.42" r="1.65" fill="#000"/>
<circle cx="414.97" cy="196.95" r="1.65" fill="#000"/>
<circle cx="427.81" cy="186.23" r="1.65" fill="#000"/>
<circle cx="440.65" cy="186.23" r="1.65" fill="#000"/>
<circle cx="453.49" cy="200.97" r="1.65" fill="#000"/>
<circle cx="466.33" cy="199.18" r="1.65" fill="#000"/>
<circle cx="479.17" cy="197.51" r="1.65" fill="#000"/>
<circle cx="492.01" cy="172.49" r="1.65" fill="#000"/>
<circle cx="504.85" cy="154.18" r="1.65" fill="#000"/>
<circle cx="517.69" cy="151.95" r="1.65" fill="#000"/>
<rect x="368.6" y="130.85" width="156.95" height="85.7" class="bd"/>
<rect x="368.6" y="117.85" width="156.95" height="13" class="bd" fill="#fff"/>
<text x="447.07" y="126.7" class="strip">Les Bordes</text>
<line x1="366.6" x2="368.6" y1="201.75" y2="201.75" class="tick"/>
<text x="365.2" y="203.6" class="ylab">40</text>
<line x1="366.6" x2="368.6" y1="179.42" y2="179.42" class="tick"/>
<text x="365.2" y="181.27" class="ylab">60</text>
<line x1="366.6" x2="368.6" y1="157.08" y2="157.08" class="tick"/>
<text x="365.2" y="158.93" class="ylab">80</text>
<line x1="366.6" x2="368.6" y1="134.75" y2="134.75" class="tick"/>
<text x="365.2" y="136.6" class="ylab">100</text>
</g>
<g>
<rect x="530.13" y="130.85" width="25.68" height="85.7" fill="#d5e4fa"/>
<rect x="555.81" y="130.85" width="38.52" height="85.7" fill="#b7e9c5"/>
<rect x="594.33" y="130.85" width="38.52" height="85.7" fill="#fef2b1"/>
<rect x="632.85" y="130.85" width="38.52" height="85.7" fill="#f6d5ab"/>
<rect x="671.37" y="130.85" width="12.84" height="85.7" fill="#d5e4fa"/>
<path d="M536.55 130.85v85.7M549.39 130.85v85.7M562.23 130.85v85.7M575.07 130.85v85.7M587.91 130.85v85.7M600.75 130.85v85.7M613.59 130.85v85.7M626.43 130.85v85.7M639.27 130.85v85.7M652.11 130.85v85.7M664.95 130.85v85.7M677.79 130.85v85.7" class="vg"/>
<line x1="529.1" x2="685.75" y1="212.92" y2="212.92" class="grid"/>
<line x1="529.1" x2="685.75" y1="201.75" y2="201.75" class="grid"/>
<line x1="529.1" x2="685.75" y1="190.59" y2="190.59" class="grid"/>
<line x1="529.1" x2="685.75" y1="179.42" y2="179.42" class="grid"/>
<line x1="529.1" x2="685.75" y1="168.25" y2="168.25" class="grid"/>
<line x1="529.1" x2="685.75" y1="157.08" y2="157.08" class="grid"/>
<line x1="529.1" x2="685.75" y1="145.92" y2="145.92" class="grid"/>
<line x1="529.1" x2="685.75" y1="134.75" y2="134.75" class="grid"/>
<path d="M536.55 150.5V168.47M535.05 150.5h3M535.05 168.47h3M549.39 162.78V179.19M547.89 162.78h3M547.89 179.19h3M562.23 175.51V189.91M560.73 175.51h3M560.73 189.91h3M575.07 178.41V198.4M573.57 178.41h3M573.57 198.4h3M587.91 172.27V188.02M586.41 172.27h3M586.41 188.02h3M600.75 168.25V195.5M599.25 168.25h3M599.25 195.5h3M613.59 175.51V205.21M612.09 175.51h3M612.09 205.21h3M626.43 177.74V200.97M624.93 177.74h3M624.93 200.97h3M639.27 182.43V193.94M637.77 182.43h3M637.77 193.94h3M652.11 156.75V186.23M650.61 156.75h3M650.61 186.23h3M664.95 150.72V170.26M663.45 150.72h3M663.45 170.26h3M677.79 145.47V160.21M676.29 145.47h3M676.29 160.21h3" class="err"/>
<polyline points="536.55,158.2 549.39,170.26 562.23,184.67 575.07,192.71 587.91,180.2 600.75,187.46 613.59,194.94 626.43,193.94 639.27,189.47 652.11,171.49 664.95,158.54 677.79,156.19" fill="none" stroke="#1d5bc4" stroke-width="1.5" stroke-linejoin="round"/>
<circle cx="536.55" cy="158.2" r="1.65" fill="#000"/>
<circle cx="549.39" cy="170.26" r="1.65" fill="#000"/>
<circle cx="562.23" cy="184.67" r="1.65" fill="#000"/>
<circle cx="575.07" cy="192.71" r="1.65" fill="#000"/>
<circle cx="587.91" cy="180.2" r="1.65" fill="#000"/>
<circle cx="600.75" cy="187.46" r="1.65" fill="#000"/>
<circle cx="613.59" cy="194.94" r="1.65" fill="#000"/>
<circle cx="626.43" cy="193.94" r="1.65" fill="#000"/>
<circle cx="639.27" cy="189.47" r="1.65" fill="#000"/>
<circle cx="652.11" cy="171.49" r="1.65" fill="#000"/>
<circle cx="664.95" cy="158.54" r="1.65" fill="#000"/>
<circle cx="677.79" cy="156.19" r="1.65" fill="#000"/>
<rect x="529.1" y="130.85" width="156.65" height="85.7" class="bd"/>
<rect x="529.1" y="117.85" width="156.65" height="13" class="bd" fill="#fff"/>
<text x="607.42" y="126.7" class="strip">La Tour−de−Salvagny</text>
</g>
<g>
<rect x="370.03" y="233.2" width="25.68" height="85.7" fill="#d5e4fa"/>
<rect x="395.71" y="233.2" width="38.52" height="85.7" fill="#b7e9c5"/>
<rect x="434.23" y="233.2" width="38.52" height="85.7" fill="#fef2b1"/>
<rect x="472.75" y="233.2" width="38.52" height="85.7" fill="#f6d5ab"/>
<rect x="511.27" y="233.2" width="12.84" height="85.7" fill="#d5e4fa"/>
<path d="M376.45 233.2v85.7M389.29 233.2v85.7M402.13 233.2v85.7M414.97 233.2v85.7M427.81 233.2v85.7M440.65 233.2v85.7M453.49 233.2v85.7M466.33 233.2v85.7M479.17 233.2v85.7M492.01 233.2v85.7M504.85 233.2v85.7M517.69 233.2v85.7" class="vg"/>
<line x1="368.6" x2="525.55" y1="315.27" y2="315.27" class="grid"/>
<line x1="368.6" x2="525.55" y1="304.1" y2="304.1" class="grid"/>
<line x1="368.6" x2="525.55" y1="292.94" y2="292.94" class="grid"/>
<line x1="368.6" x2="525.55" y1="281.77" y2="281.77" class="grid"/>
<line x1="368.6" x2="525.55" y1="270.6" y2="270.6" class="grid"/>
<line x1="368.6" x2="525.55" y1="259.43" y2="259.43" class="grid"/>
<line x1="368.6" x2="525.55" y1="248.27" y2="248.27" class="grid"/>
<line x1="368.6" x2="525.55" y1="237.1" y2="237.1" class="grid"/>
<path d="M376.45 248.16V287.13M374.95 248.16h3M374.95 287.13h3M389.29 261.33V289.47M387.79 261.33h3M387.79 289.47h3M402.13 274.4V285.45M400.63 274.4h3M400.63 285.45h3M414.97 276.18V295.39M413.47 276.18h3M413.47 295.39h3M427.81 271.16V292.49M426.31 271.16h3M426.31 292.49h3M440.65 259.1V295.17M439.15 259.1h3M439.15 295.17h3M453.49 272.39V304.21M451.99 272.39h3M451.99 304.21h3M466.33 273.39V307.45M464.83 273.39h3M464.83 307.45h3M479.17 269.37V299.19M477.67 269.37h3M477.67 299.19h3M492.01 249.16V280.43M490.51 249.16h3M490.51 280.43h3M504.85 246.82V286.46M503.35 246.82h3M503.35 286.46h3M517.69 245.59V279.42M516.19 245.59h3M516.19 279.42h3" class="err"/>
<polyline points="376.45,256.87 389.29,270.38 402.13,282.44 414.97,290.48 427.81,280.43 440.65,285.9 453.49,295.95 466.33,290.7 479.17,282.44 492.01,262.34 504.85,259.1 517.69,257.09" fill="none" stroke="#1d5bc4" stroke-width="1.5" stroke-linejoin="round"/>
<circle cx="376.45" cy="256.87" r="1.65" fill="#000"/>
<circle cx="389.29" cy="270.38" r="1.65" fill="#000"/>
<circle cx="402.13" cy="282.44" r="1.65" fill="#000"/>
<circle cx="414.97" cy="290.48" r="1.65" fill="#000"/>
<circle cx="427.81" cy="280.43" r="1.65" fill="#000"/>
<circle cx="440.65" cy="285.9" r="1.65" fill="#000"/>
<circle cx="453.49" cy="295.95" r="1.65" fill="#000"/>
<circle cx="466.33" cy="290.7" r="1.65" fill="#000"/>
<circle cx="479.17" cy="282.44" r="1.65" fill="#000"/>
<circle cx="492.01" cy="262.34" r="1.65" fill="#000"/>
<circle cx="504.85" cy="259.1" r="1.65" fill="#000"/>
<circle cx="517.69" cy="257.09" r="1.65" fill="#000"/>
<rect x="368.6" y="233.2" width="156.95" height="85.7" class="bd"/>
<rect x="368.6" y="220.2" width="156.95" height="13" class="bd" fill="#fff"/>
<text x="447.07" y="229.05" class="strip">Etiolles</text>
<line x1="366.6" x2="368.6" y1="304.1" y2="304.1" class="tick"/>
<text x="365.2" y="305.95" class="ylab">40</text>
<line x1="366.6" x2="368.6" y1="281.77" y2="281.77" class="tick"/>
<text x="365.2" y="283.62" class="ylab">60</text>
<line x1="366.6" x2="368.6" y1="259.43" y2="259.43" class="tick"/>
<text x="365.2" y="261.28" class="ylab">80</text>
<line x1="366.6" x2="368.6" y1="237.1" y2="237.1" class="tick"/>
<text x="365.2" y="238.95" class="ylab">100</text>
</g>
<g>
<rect x="530.13" y="233.2" width="25.68" height="85.7" fill="#d5e4fa"/>
<rect x="555.81" y="233.2" width="38.52" height="85.7" fill="#b7e9c5"/>
<rect x="594.33" y="233.2" width="38.52" height="85.7" fill="#fef2b1"/>
<rect x="632.85" y="233.2" width="38.52" height="85.7" fill="#f6d5ab"/>
<rect x="671.37" y="233.2" width="12.84" height="85.7" fill="#d5e4fa"/>
<path d="M536.55 233.2v85.7M549.39 233.2v85.7M562.23 233.2v85.7M575.07 233.2v85.7M587.91 233.2v85.7M600.75 233.2v85.7M613.59 233.2v85.7M626.43 233.2v85.7M639.27 233.2v85.7M652.11 233.2v85.7M664.95 233.2v85.7M677.79 233.2v85.7" class="vg"/>
<line x1="529.1" x2="685.75" y1="315.27" y2="315.27" class="grid"/>
<line x1="529.1" x2="685.75" y1="304.1" y2="304.1" class="grid"/>
<line x1="529.1" x2="685.75" y1="292.94" y2="292.94" class="grid"/>
<line x1="529.1" x2="685.75" y1="281.77" y2="281.77" class="grid"/>
<line x1="529.1" x2="685.75" y1="270.6" y2="270.6" class="grid"/>
<line x1="529.1" x2="685.75" y1="259.43" y2="259.43" class="grid"/>
<line x1="529.1" x2="685.75" y1="248.27" y2="248.27" class="grid"/>
<line x1="529.1" x2="685.75" y1="237.1" y2="237.1" class="grid"/>
<path d="M536.55 245.36V262.34M535.05 245.36h3M535.05 262.34h3M549.39 254.07V275.18M547.89 254.07h3M547.89 275.18h3M562.23 265.69V281.43M560.73 265.69h3M560.73 281.43h3M575.07 265.35V293.94M573.57 265.35h3M573.57 293.94h3M587.91 270.15V277.19M586.41 270.15h3M586.41 277.19h3M600.75 259.1V289.47M599.25 259.1h3M599.25 289.47h3M613.59 272.39V283.44M612.09 272.39h3M612.09 283.44h3M626.43 269.37V286.46M624.93 269.37h3M624.93 286.46h3M639.27 262.34V278.19M637.77 262.34h3M637.77 278.19h3M652.11 245.36V265.35M650.61 245.36h3M650.61 265.35h3M664.95 243.35V262.11M663.45 243.35h3M663.45 262.11h3M677.79 243.35V261.11M676.29 243.35h3M676.29 261.11h3" class="err"/>
<polyline points="536.55,252.62 549.39,265.69 562.23,271.61 575.07,281.88 587.91,273.39 600.75,269.6 613.59,276.18 626.43,274.62 639.27,272.16 652.11,255.41 664.95,254.07 677.79,247.6" fill="none" stroke="#1d5bc4" stroke-width="1.5" stroke-linejoin="round"/>
<circle cx="536.55" cy="252.62" r="1.65" fill="#000"/>
<circle cx="549.39" cy="265.69" r="1.65" fill="#000"/>
<circle cx="562.23" cy="271.61" r="1.65" fill="#000"/>
<circle cx="575.07" cy="281.88" r="1.65" fill="#000"/>
<circle cx="587.91" cy="273.39" r="1.65" fill="#000"/>
<circle cx="600.75" cy="269.6" r="1.65" fill="#000"/>
<circle cx="613.59" cy="276.18" r="1.65" fill="#000"/>
<circle cx="626.43" cy="274.62" r="1.65" fill="#000"/>
<circle cx="639.27" cy="272.16" r="1.65" fill="#000"/>
<circle cx="652.11" cy="255.41" r="1.65" fill="#000"/>
<circle cx="664.95" cy="254.07" r="1.65" fill="#000"/>
<circle cx="677.79" cy="247.6" r="1.65" fill="#000"/>
<rect x="529.1" y="233.2" width="156.65" height="85.7" class="bd"/>
<rect x="529.1" y="220.2" width="156.65" height="13" class="bd" fill="#fff"/>
<text x="607.42" y="229.05" class="strip">Carquefou</text>
<line x1="529.1" x2="685.75" y1="318.9" y2="318.9" class="axl"/>
<line x1="536.55" x2="536.55" y1="318.9" y2="320.9" class="xtick"/>
<text x="536.55" y="326.15" class="xlab">Jan</text>
<line x1="549.39" x2="549.39" y1="318.9" y2="320.9" class="xtick"/>
<text x="549.39" y="326.15" class="xlab">Feb</text>
<line x1="562.23" x2="562.23" y1="318.9" y2="320.9" class="xtick"/>
<text x="562.23" y="326.15" class="xlab">Mar</text>
<line x1="575.07" x2="575.07" y1="318.9" y2="320.9" class="xtick"/>
<text x="575.07" y="326.15" class="xlab">Apr</text>
<line x1="587.91" x2="587.91" y1="318.9" y2="320.9" class="xtick"/>
<text x="587.91" y="326.15" class="xlab">May</text>
<line x1="600.75" x2="600.75" y1="318.9" y2="320.9" class="xtick"/>
<text x="600.75" y="326.15" class="xlab">Jun</text>
<line x1="613.59" x2="613.59" y1="318.9" y2="320.9" class="xtick"/>
<text x="613.59" y="326.15" class="xlab">Jul</text>
<line x1="626.43" x2="626.43" y1="318.9" y2="320.9" class="xtick"/>
<text x="626.43" y="326.15" class="xlab">Aug</text>
<line x1="639.27" x2="639.27" y1="318.9" y2="320.9" class="xtick"/>
<text x="639.27" y="326.15" class="xlab">Sep</text>
<line x1="652.11" x2="652.11" y1="318.9" y2="320.9" class="xtick"/>
<text x="652.11" y="326.15" class="xlab">Oct</text>
<line x1="664.95" x2="664.95" y1="318.9" y2="320.9" class="xtick"/>
<text x="664.95" y="326.15" class="xlab">Nov</text>
<line x1="677.79" x2="677.79" y1="318.9" y2="320.9" class="xtick"/>
<text x="677.79" y="326.15" class="xlab">Dec</text>
</g>
<g>
<rect x="370.03" y="335.55" width="25.68" height="85.7" fill="#d5e4fa"/>
<rect x="395.71" y="335.55" width="38.52" height="85.7" fill="#b7e9c5"/>
<rect x="434.23" y="335.55" width="38.52" height="85.7" fill="#fef2b1"/>
<rect x="472.75" y="335.55" width="38.52" height="85.7" fill="#f6d5ab"/>
<rect x="511.27" y="335.55" width="12.84" height="85.7" fill="#d5e4fa"/>
<path d="M376.45 335.55v85.7M389.29 335.55v85.7M402.13 335.55v85.7M414.97 335.55v85.7M427.81 335.55v85.7M440.65 335.55v85.7M453.49 335.55v85.7M466.33 335.55v85.7M479.17 335.55v85.7M492.01 335.55v85.7M504.85 335.55v85.7M517.69 335.55v85.7" class="vg"/>
<line x1="368.6" x2="525.55" y1="417.62" y2="417.62" class="grid"/>
<line x1="368.6" x2="525.55" y1="406.45" y2="406.45" class="grid"/>
<line x1="368.6" x2="525.55" y1="395.28" y2="395.28" class="grid"/>
<line x1="368.6" x2="525.55" y1="384.12" y2="384.12" class="grid"/>
<line x1="368.6" x2="525.55" y1="372.95" y2="372.95" class="grid"/>
<line x1="368.6" x2="525.55" y1="361.78" y2="361.78" class="grid"/>
<line x1="368.6" x2="525.55" y1="350.62" y2="350.62" class="grid"/>
<line x1="368.6" x2="525.55" y1="339.45" y2="339.45" class="grid"/>
<path d="M376.45 348.72V368.26M374.95 348.72h3M374.95 368.26h3M389.29 360.44V374.29M387.79 360.44h3M387.79 374.29h3M402.13 373.29V385.57M400.63 373.29h3M400.63 385.57h3M414.97 375.74V393.5M413.47 375.74h3M413.47 393.5h3M427.81 360.44V381.21M426.31 360.44h3M426.31 381.21h3M440.65 364.46V384.56M439.15 364.46h3M439.15 384.56h3M453.49 371.28V395.28M451.99 371.28h3M451.99 395.28h3M466.33 375.3V400.31M464.83 375.3h3M464.83 400.31h3M479.17 374.51V396.51M477.67 374.51h3M477.67 396.51h3M492.01 352.96V382.55M490.51 352.96h3M490.51 382.55h3M504.85 349.5V367.48M503.35 349.5h3M503.35 367.48h3M517.69 350.17V360M516.19 350.17h3M516.19 360h3" class="err"/>
<polyline points="376.45,357.21 389.29,366.47 402.13,376.3 414.97,383.56 427.81,376.3 440.65,377.75 453.49,384.23 466.33,385.01 479.17,383 492.01,372.73 504.85,359.77 517.69,356.76" fill="none" stroke="#1d5bc4" stroke-width="1.5" stroke-linejoin="round"/>
<circle cx="376.45" cy="357.21" r="1.65" fill="#000"/>
<circle cx="389.29" cy="366.47" r="1.65" fill="#000"/>
<circle cx="402.13" cy="376.3" r="1.65" fill="#000"/>
<circle cx="414.97" cy="383.56" r="1.65" fill="#000"/>
<circle cx="427.81" cy="376.3" r="1.65" fill="#000"/>
<circle cx="440.65" cy="377.75" r="1.65" fill="#000"/>
<circle cx="453.49" cy="384.23" r="1.65" fill="#000"/>
<circle cx="466.33" cy="385.01" r="1.65" fill="#000"/>
<circle cx="479.17" cy="383" r="1.65" fill="#000"/>
<circle cx="492.01" cy="372.73" r="1.65" fill="#000"/>
<circle cx="504.85" cy="359.77" r="1.65" fill="#000"/>
<circle cx="517.69" cy="356.76" r="1.65" fill="#000"/>
<rect x="368.6" y="335.55" width="156.95" height="85.7" class="bd"/>
<rect x="368.6" y="322.55" width="156.95" height="13" class="bd" fill="#fff"/>
<text x="447.07" y="331.4" class="strip">Gardouch</text>
<line x1="366.6" x2="368.6" y1="406.45" y2="406.45" class="tick"/>
<text x="365.2" y="408.3" class="ylab">40</text>
<line x1="366.6" x2="368.6" y1="384.12" y2="384.12" class="tick"/>
<text x="365.2" y="385.97" class="ylab">60</text>
<line x1="366.6" x2="368.6" y1="361.78" y2="361.78" class="tick"/>
<text x="365.2" y="363.63" class="ylab">80</text>
<line x1="366.6" x2="368.6" y1="339.45" y2="339.45" class="tick"/>
<text x="365.2" y="341.3" class="ylab">100</text>
<line x1="368.6" x2="525.55" y1="421.25" y2="421.25" class="axl"/>
<line x1="376.45" x2="376.45" y1="421.25" y2="423.25" class="xtick"/>
<text x="376.45" y="428.5" class="xlab">Jan</text>
<line x1="389.29" x2="389.29" y1="421.25" y2="423.25" class="xtick"/>
<text x="389.29" y="428.5" class="xlab">Feb</text>
<line x1="402.13" x2="402.13" y1="421.25" y2="423.25" class="xtick"/>
<text x="402.13" y="428.5" class="xlab">Mar</text>
<line x1="414.97" x2="414.97" y1="421.25" y2="423.25" class="xtick"/>
<text x="414.97" y="428.5" class="xlab">Apr</text>
<line x1="427.81" x2="427.81" y1="421.25" y2="423.25" class="xtick"/>
<text x="427.81" y="428.5" class="xlab">May</text>
<line x1="440.65" x2="440.65" y1="421.25" y2="423.25" class="xtick"/>
<text x="440.65" y="428.5" class="xlab">Jun</text>
<line x1="453.49" x2="453.49" y1="421.25" y2="423.25" class="xtick"/>
<text x="453.49" y="428.5" class="xlab">Jul</text>
<line x1="466.33" x2="466.33" y1="421.25" y2="423.25" class="xtick"/>
<text x="466.33" y="428.5" class="xlab">Aug</text>
<line x1="479.17" x2="479.17" y1="421.25" y2="423.25" class="xtick"/>
<text x="479.17" y="428.5" class="xlab">Sep</text>
<line x1="492.01" x2="492.01" y1="421.25" y2="423.25" class="xtick"/>
<text x="492.01" y="428.5" class="xlab">Oct</text>
<line x1="504.85" x2="504.85" y1="421.25" y2="423.25" class="xtick"/>
<text x="504.85" y="428.5" class="xlab">Nov</text>
<line x1="517.69" x2="517.69" y1="421.25" y2="423.25" class="xtick"/>
<text x="517.69" y="428.5" class="xlab">Dec</text>
</g>
<text x="6.6" y="10.9" class="tag">A</text>
<text x="20.6" y="10.1" class="ttl">Monthly average temperature</text>
<text x="351.6" y="10.9" class="tag">B</text>
<text x="368.7" y="10.1" class="ttl">Monthly average minimum relative humidity</text>
<text transform="translate(6.1 224.95) rotate(-90)" class="ax">Average temperature (°C)</text>
<text transform="translate(352.8 224.95) rotate(-90)" class="ax">Average minimum relative humidity (%)</text>
<rect x="262" y="446" width="10.2" height="10.2" fill="#d5e4fa"/>
<text x="276.3" y="453.1" class="leg">Dec – Feb</text>
<rect x="305.5" y="446" width="10.2" height="10.2" fill="#b7e9c5"/>
<text x="319.8" y="453.1" class="leg">Mar – May</text>
<rect x="348" y="446" width="10.2" height="10.2" fill="#fef2b1"/>
<text x="362.3" y="453.1" class="leg">Jun – Aug</text>
<rect x="390.6" y="446" width="10.2" height="10.2" fill="#f6d5ab"/>
<text x="404.9" y="453.1" class="leg">Sep – Nov</text>
</svg></body></html>
